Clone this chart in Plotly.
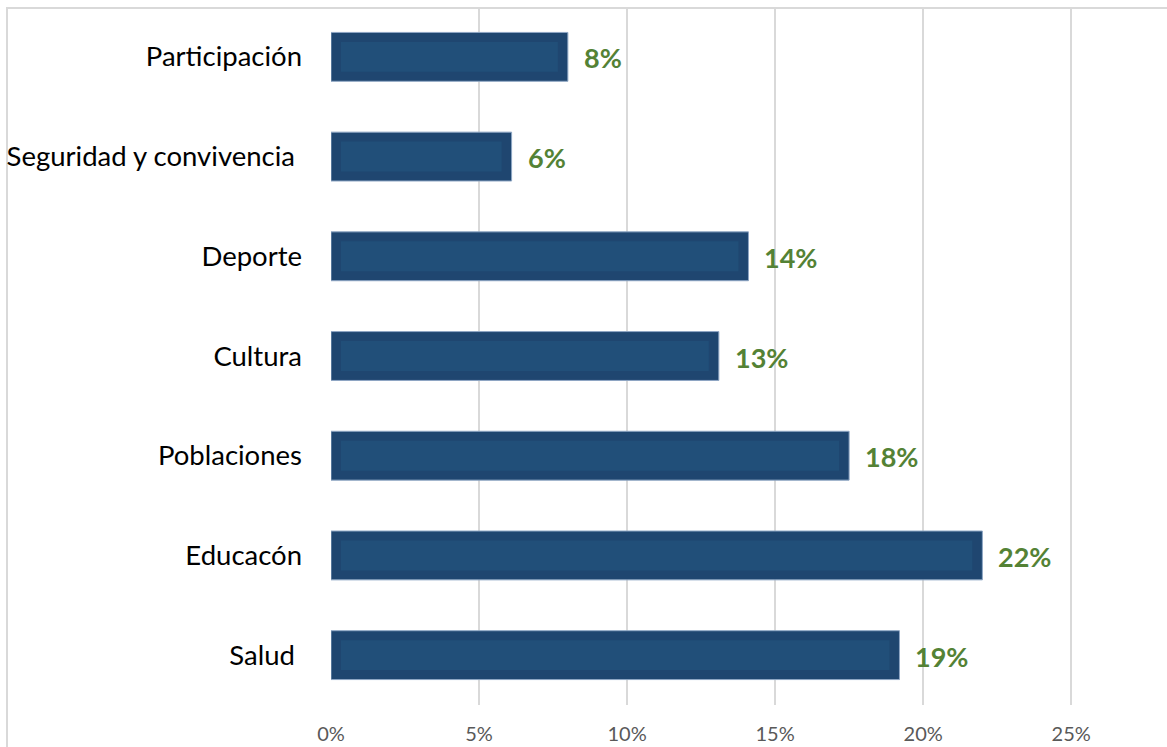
import plotly.graph_objects as go

categories = ["Participación", "Seguridad y convivencia ", "Deporte", "Cultura",
              "Poblaciones", "Educacón", "Salud "]
values = [0.08, 0.061, 0.141, 0.131, 0.175, 0.22, 0.192]
tick_vals = [0, 0.05, 0.10, 0.15, 0.20, 0.25]
tick_text = ["0%", "5%", "10%", "15%", "20%", "25%"]

W, H = 1167, 747
L, R, T, B = 331, 7, 7, 42
pw, ph = W - L - R, H - T - B
inset = 10 / (pw / 0.28)

fig = go.Figure()
fig.add_trace(go.Bar(
    y=categories, x=values, orientation="h", width=0.49,
    marker=dict(color="#1F4670", line=dict(color="#8ea6c4", width=1)),
    hoverinfo="skip",
))
fig.add_trace(go.Bar(
    y=categories, x=[v - 2 * inset for v in values], base=inset, orientation="h",
    width=0.3, marker=dict(color="#214F79", line=dict(width=0)), hoverinfo="skip",
))
for c, v in zip(categories, values):
    fig.add_annotation(x=v, y=c, text=f"{v:.0%}", showarrow=False,
                       xanchor="left", xshift=14, yshift=-1,
                       font=dict(family="Lato, sans-serif", size=27,
                                 color="#548235", weight="bold"))
fig.update_layout(
    width=W, height=H, barmode="overlay", showlegend=False,
    margin=dict(l=L, r=R, t=T, b=B, autoexpand=False),
    paper_bgcolor="white", plot_bgcolor="white",
    font=dict(family="Lato, sans-serif"),
    xaxis=dict(range=[0, 0.28], tickvals=tick_vals, ticktext=tick_text,
               showgrid=True, gridcolor="#d9d9d9", gridwidth=2,
               zeroline=False, showline=False, ticks="", automargin=False,
               ticklabelstandoff=15,
               tickfont=dict(size=20, color="#595959")),
    yaxis=dict(autorange="reversed", showgrid=False, zeroline=False, showline=False,
               ticks="", ticklabelstandoff=28, automargin=False,
               tickfont=dict(size=27.5, color="#000000")),
    shapes=[dict(type="rect", xref="paper", yref="paper",
                 x0=(7 - L) / pw, x1=(W + 20 - L) / pw,
                 y0=-0.2, y1=(H - B - 8) / ph,
                 line=dict(color="#d9d9d9", width=2), layer="below")],
)
fig.write_html("out.html", config={"displayModeBar": False},
               post_script="document.body.style.margin='0';document.body.style.overflow='hidden';")
